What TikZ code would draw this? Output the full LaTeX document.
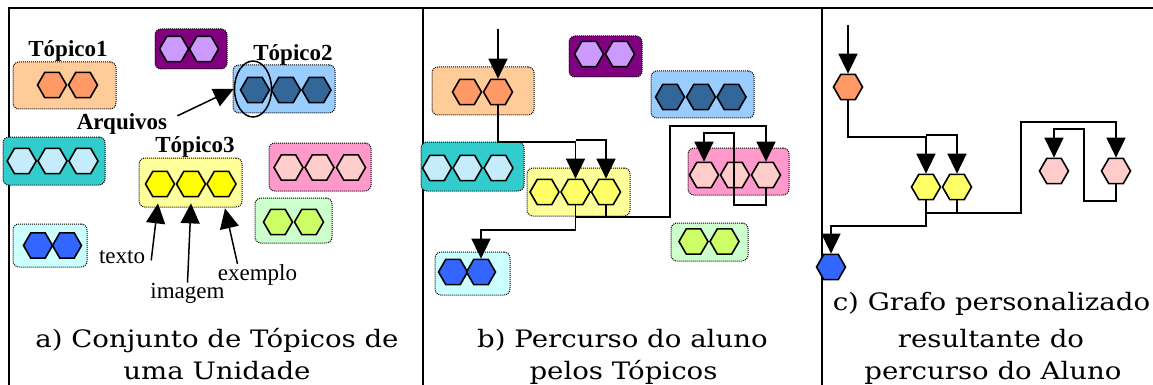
\documentclass[tikz,border=0pt]{standalone}
\usepackage{fontspec}
\setmainfont{Liberation Serif}
\newfontfamily\capfont[FakeStretch=1.15]{DejaVu Serif}
\usetikzlibrary{shapes.geometric,arrows.meta,fit}
\definecolor{cOrB}{HTML}{FFCC99}
\definecolor{cOrH}{HTML}{FF9966}
\definecolor{cPuB}{HTML}{800080}
\definecolor{cPuH}{HTML}{CC99FF}
\definecolor{cBlB}{HTML}{99CCFF}
\definecolor{cBlH}{HTML}{336699}
\definecolor{cCyB}{HTML}{33CCCC}
\definecolor{cCyH}{HTML}{C4ECFA}
\definecolor{cYeB}{HTML}{FFFF99}
\definecolor{cYeH}{HTML}{FFFF00}
\definecolor{cYeH2}{HTML}{FFFF66}
\definecolor{cPiB}{HTML}{FF99CC}
\definecolor{cPiH}{HTML}{FFCCCC}
\definecolor{cGrB}{HTML}{CCFFCC}
\definecolor{cGrH}{HTML}{CCFF66}
\definecolor{cSbB}{HTML}{CCFFFF}
\definecolor{cSbH}{HTML}{3366FF}
\begin{document}
\begin{tikzpicture}[x=1pt,y=-1pt,
 hexa/.style={regular polygon,regular polygon sides=6,minimum size=29pt,inner sep=0pt,draw=black,line width=1.6pt},
 tbox/.style={draw=black,densely dotted,line width=1pt,rounded corners=6pt,inner sep=0pt},
 conn/.style={line width=1.5pt,draw=black},
 arr/.style={conn,-{Triangle[length=20pt,width=19pt]}},
 lab/.style={font=\fontsize{23}{26}\selectfont\bfseries,inner sep=0pt,anchor=base},
 note/.style={font=\fontsize{23}{26}\selectfont,inner sep=0pt,anchor=base},
 captxt/.style={font=\capfont\fontsize{24}{28}\selectfont,inner sep=0pt,anchor=base},
 frameln/.style={line width=2.5pt}]
\useasboundingbox (0,0) rectangle (1153,385);
% frame
\draw[frameln] (9,385) -- (9,8) -- (1153,8);
\draw[frameln] (423,8) -- (423,385);
\draw[frameln] (822,8) -- (822,385);

% ---------- panel a ----------
\node[tbox,fill=cOrB,fit={(13,62)(116,109)}] (aBo) {};
\node[tbox,fill=cPuB,fit={(155,29)(227,69)}] (aBp) {};
\node[tbox,fill=cBlB,fit={(233,65)(335,113)}] (aBb) {};
\node[tbox,fill=cCyB,fit={(3,137)(105,185)}] (aBc) {};
\node[tbox,fill=cYeB,fit={(139,158)(242,207)}] (aBy) {};
\node[tbox,fill=cPiB,fit={(269,143)(371,191)}] (aBk) {};
\node[tbox,fill=cGrB,fit={(255,198)(332,243)}] (aBg) {};
\node[tbox,fill=cSbB,fit={(13,224)(87,267)}] (aBs) {};

\node[hexa,fill=cOrH] (aO1) at (52,85) {};
\node[hexa,fill=cOrH] (aO2) at (83,85) {};
\node[hexa,fill=cPuH] (aP1) at (174,49) {};
\node[hexa,fill=cPuH] (aP2) at (204,49) {};
\node[hexa,fill=cBlH] (aB1) at (255,90) {};
\node[hexa,fill=cBlH] (aB2) at (286,90) {};
\node[hexa,fill=cBlH] (aB3) at (316.5,90) {};
\node[hexa,fill=cCyH] (aC1) at (21.7,161) {};
\node[hexa,fill=cCyH] (aC2) at (52.5,161) {};
\node[hexa,fill=cCyH] (aC3) at (83.5,161) {};
\node[hexa,fill=cYeH] (aY1) at (160,184) {};
\node[hexa,fill=cYeH] (aY2) at (191,184) {};
\node[hexa,fill=cYeH] (aY3) at (221.5,184) {};
\node[hexa,fill=cPiH] (aK1) at (288.5,167.5) {};
\node[hexa,fill=cPiH] (aK2) at (319.5,167.5) {};
\node[hexa,fill=cPiH] (aK3) at (351,167.5) {};
\node[hexa,fill=cGrH] (aG1) at (278,222) {};
\node[hexa,fill=cGrH] (aG2) at (309,222) {};
\node[hexa,fill=cSbH] (aS1) at (38,245.5) {};
\node[hexa,fill=cSbH] (aS2) at (67,245.5) {};

\node[draw=black,line width=1.5pt,ellipse,minimum width=37pt,minimum height=56pt,inner sep=0pt] (ell) at (253,89) {};

\node[lab] (t1) at (68,57) {Tópico1};
\node[lab] (t2) at (293,61) {Tópico2};
\node[lab] (t3) at (195,153) {Tópico3};
\node[lab] (arq) at (122,129) {Arquivos};
\node[note] (txt) at (122,263) {texto};
\node[note] (img) at (187.5,298) {imagem};
\node[note] (exm) at (257.5,280) {exemplo};

\draw[arr] ([shift={(10,3)}]arq.north east) -- (ell.west);
\draw[arr] ([shift={(6,-3)}]txt.south east) -- ([shift={(-2,6)}]aY1.south);
\draw[arr] (img.north) -- ([yshift=-6pt]aY2.south);
\draw[arr] ([xshift=-20pt]exm.north) -- ([shift={(3.5,11)}]aY3.south);

\node[captxt] (capa1) at (217,347) {a) Conjunto de Tópicos de};
\node[captxt] (capa2) at (217,379) {uma Unidade};

% ---------- panel b ----------
\node[tbox,fill=cOrB,fit={(432,67)(534,115)}] (bBo) {};
\node[tbox,fill=cPuB,fit={(569,36)(642,77)}] (bBp) {};
\node[tbox,fill=cBlB,fit={(651,71)(754,118)}] (bBb) {};
\node[tbox,fill=cCyB,fit={(421,142)(524,191)}] (bBc) {};
\node[tbox,fill=cYeB,fit={(527,168)(630,216)}] (bBy) {};
\node[tbox,fill=cPiB,fit={(688,148)(789,195)}] (bBk) {};
\node[tbox,fill=cGrB,fit={(671,223)(748,261)}] (bBg) {};
\node[tbox,fill=cSbB,fit={(435,252)(510,295)}] (bBs) {};

\node[hexa,fill=cOrH] (bO1) at (467,92) {};
\node[hexa,fill=cOrH] (bO2) at (498,92) {};
\node[hexa,fill=cPuH] (bP1) at (589,54) {};
\node[hexa,fill=cPuH] (bP2) at (620,54) {};
\node[hexa,fill=cBlH] (bB1) at (670,97) {};
\node[hexa,fill=cBlH] (bB2) at (701,97) {};
\node[hexa,fill=cBlH] (bB3) at (731.5,97) {};
\node[hexa,fill=cCyH] (bC1) at (437,168) {};
\node[hexa,fill=cCyH] (bC2) at (467.5,168) {};
\node[hexa,fill=cCyH] (bC3) at (498.5,168) {};
\node[hexa,fill=cYeH2] (bY1) at (544.5,192) {};
\node[hexa,fill=cYeH2] (bY2) at (575.5,192) {};
\node[hexa,fill=cYeH2] (bY3) at (606,192) {};
\node[hexa,fill=cPiH] (bK1) at (704,175) {};
\node[hexa,fill=cPiH] (bK2) at (735,175) {};
\node[hexa,fill=cPiH] (bK3) at (766,175) {};
\node[hexa,fill=cGrH] (bG1) at (693.5,241.5) {};
\node[hexa,fill=cGrH] (bG2) at (724.5,241.5) {};
\node[hexa,fill=cSbH] (bS1) at (453,272) {};
\node[hexa,fill=cSbH] (bS2) at (481,272) {};

\coordinate (bIn) at (498,29);
\draw[arr] (bIn) -- (bO2.north);
\draw[arr] (bO2.south) -- (bO2.south |- 0,142) -| (bY2.north);
\draw[arr] (bY2.north |- 0,140) -| (bY3.north);
\draw[arr] (bY2.south) -- (bY2.south |- 0,230) -| (bS2.north);
\draw[conn] (bY3.south) -- (bY3.south |- 0,217);
\draw[arr] (bY2.south |- 0,217) -- (670,217) -- (670,126) -| (bK3.north);
\draw[arr] (bK3.south) -- (bK3.south |- 0,205) -- (734,205) -- (734,133) -| (bK1.north);

\node[captxt] (capb1) at (622.5,347) {b) Percurso do aluno};
\node[captxt] (capb2) at (623.5,379) {pelos Tópicos};

% ---------- panel c ----------
\node[hexa,fill=cOrH] (cO) at (848,87) {};
\node[hexa,fill=cYeH2] (cY1) at (926,187) {};
\node[hexa,fill=cYeH2] (cY2) at (957,187) {};
\node[hexa,fill=cSbH] (cS) at (831,267) {};
\node[hexa,fill=cPiH] (cK1) at (1054,171) {};
\node[hexa,fill=cPiH] (cK2) at (1116,171) {};

\coordinate (cIn) at (848,25);
\draw[arr] (cIn) -- (cO.north);
\draw[arr] (cO.south) -- (cO.south |- 0,137) -| (cY1.north);
\draw[arr] (cY1.north |- 0,135) -| (cY2.north);
\draw[arr] (cY1.south) -- (cY1.south |- 0,226) -| (cS.north);
\draw[conn] (cY2.south) -- (cY2.south |- 0,213);
\draw[arr] (cY1.south |- 0,213) -- (1021,213) -- (1021,122) -| (cK2.north);
\draw[arr] (cK2.south) -- (cK2.south |- 0,201) -- (1084,201) -- (1084,129) -| (cK1.north);

\node[captxt] (capc1) at (991.5,310) {c) Grafo personalizado};
\node[captxt] (capc2) at (991,347) {resultante do};
\node[captxt] (capc3) at (993,379) {percurso do Aluno};
\end{tikzpicture}
\end{document}
